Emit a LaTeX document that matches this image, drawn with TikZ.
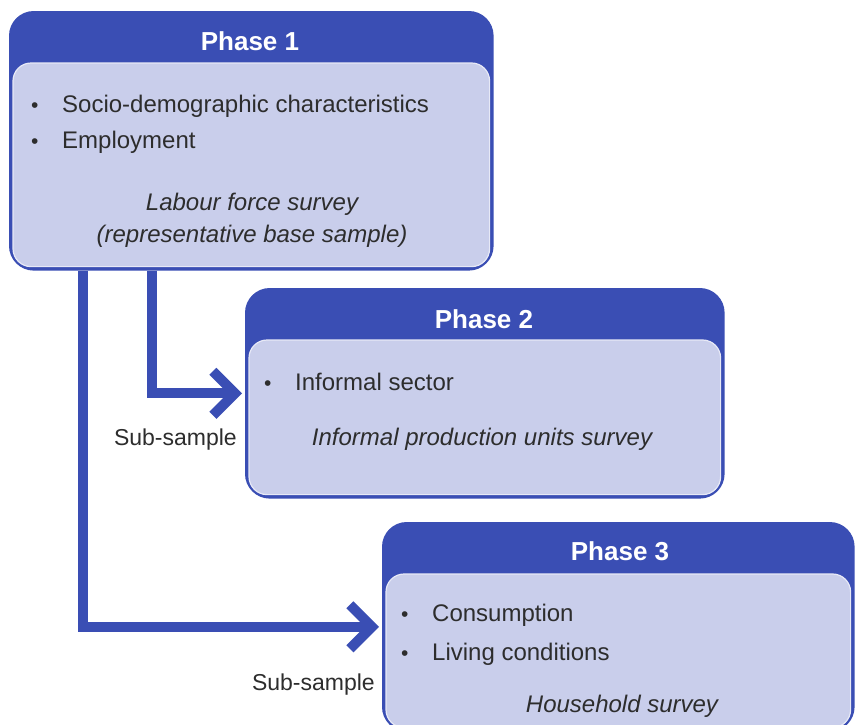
\documentclass[tikz,border=0pt]{standalone}
\usepackage{fontspec}
\setmainfont{Liberation Sans}
\usetikzlibrary{arrows.meta}
\definecolor{dblue}{RGB}{58,78,180}
\definecolor{lbody}{RGB}{201,206,235}
\definecolor{txt}{RGB}{45,45,45}
\newcommand{\blt}{\makebox[31pt][l]{\fontsize{21}{21}\selectfont\textbullet}}
\tikzset{
  phasebox/.style={draw=dblue, line width=1.6pt, fill=dblue, rounded corners=24pt, inner sep=0pt, anchor=north west},
  bodybox/.style={fill=lbody, draw=white!55!lbody, line width=1.2pt, rounded corners=18pt},
  title/.style={text=white, font=\fontsize{26}{30}\selectfont\bfseries, inner sep=0pt, anchor=base},
  item/.style={text=txt, font=\fontsize{24}{28}\selectfont, inner sep=0pt, anchor=base west},
  survey/.style={text=txt, font=\fontsize{24}{28}\selectfont\itshape, inner sep=0pt, anchor=base},
  sublabel/.style={text=txt, font=\fontsize{23}{28}\selectfont, inner sep=0pt, anchor=base east},
  conn/.style={draw=dblue, line width=10pt, -{Straight Barb[length=22pt,width=44pt]}, shorten >=3pt}
}
\begin{document}
\begin{tikzpicture}[x=1pt,y=-1pt]
\useasboundingbox[fill=white] (0,0) rectangle (855,724);
% Phase 1
\node[phasebox, minimum width=483pt, minimum height=258pt] (p1) at (9,11) {};
\draw[bodybox] ([xshift=4pt,yshift=-52pt]p1.north west) rectangle ([xshift=-4pt,yshift=4pt]p1.south east);
\node[title] (t1) at (250,50) {Phase 1};
\node[item] (i11) at (31,112) {\blt Socio-demographic characteristics};
\node[item] (i12) at (31,148) {\blt Employment};
\node[survey] (s11) at (252,210) {Labour force survey};
\node[survey] (s12) at (252,242) {(representative base sample)};
% Phase 2
\node[phasebox, minimum width=478pt, minimum height=209pt] (p2) at (245,288) {};
\draw[bodybox] ([xshift=4pt,yshift=-52pt]p2.north west) rectangle ([xshift=-4pt,yshift=4pt]p2.south east);
\node[title] (t2) at (484,328) {Phase 2};
\node[item] (i21) at (264,390) {\blt Informal sector};
\node[survey] (s21) at (482,445) {Informal production units survey};
% Phase 3
\node[phasebox, minimum width=471pt, minimum height=208pt] (p3) at (382,522) {};
\draw[bodybox] ([xshift=4pt,yshift=-52pt]p3.north west) rectangle ([xshift=-4pt,yshift=4pt]p3.south east);
\node[title] (t3) at (620,560) {Phase 3};
\node[item] (i31) at (401,621) {\blt Consumption};
\node[item] (i32) at (401,660) {\blt Living conditions};
\node[survey] (s31) at (622,712) {Household survey};
% connectors
\draw[conn] ([xshift=143pt]p1.south west) |- (p2.west);
\draw[conn] ([xshift=74pt]p1.south west) |- (p3.west);
\node[sublabel] (l1) at (237,445) {Sub-sample};
\node[sublabel] (l2) at (375,690) {Sub-sample};
\end{tikzpicture}
\end{document}
